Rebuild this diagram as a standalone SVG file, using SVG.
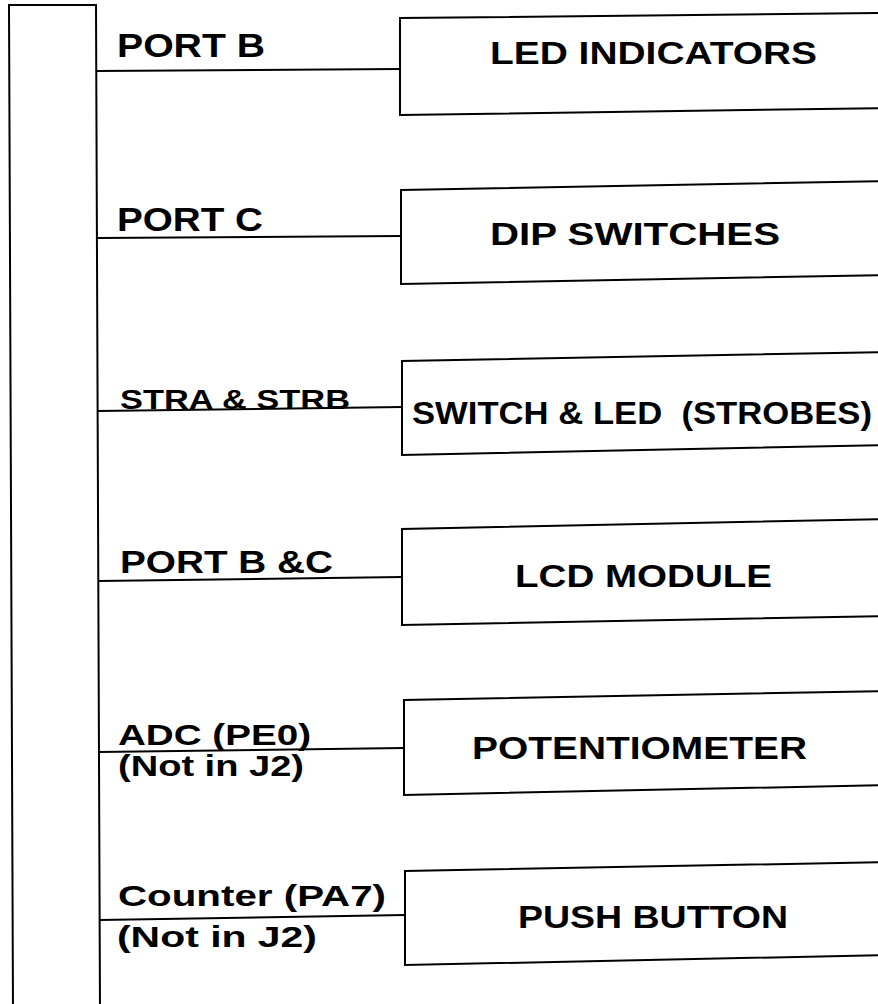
<svg xmlns="http://www.w3.org/2000/svg" width="878" height="1004" viewBox="0 0 878 1004">
<style>
.ln{fill:none;stroke:#000;stroke-width:2;stroke-linejoin:miter}
.t{font-family:"Liberation Sans",Arial,sans-serif;font-weight:bold;fill:#000}
</style>
<rect width="878" height="1004" fill="#fff"/>
<g id="bus">
<path class="ln" d="M13,1010 L9,5 L96,5 L100,1010"/>
</g>
<g id="connectors">
<path class="ln" d="M96,71 L400,69"/>
<path class="ln" d="M97,238 L401,236"/>
<path class="ln" d="M97,411 L402,407"/>
<path class="ln" d="M98,581 L402,577"/>
<path class="ln" d="M99,752 L404,748"/>
<path class="ln" d="M100,920 L405,915"/>
</g>
<g id="label-portb"><text class="t" x="117" y="57" font-size="33" textLength="148" lengthAdjust="spacingAndGlyphs">PORT B</text></g>
<g id="label-portc"><text class="t" x="117" y="231" font-size="33" textLength="146" lengthAdjust="spacingAndGlyphs">PORT C</text></g>
<g id="label-strobes"><text class="t" x="120" y="409" font-size="27" textLength="230" lengthAdjust="spacingAndGlyphs">STRA &amp; STRB</text></g>
<g id="label-portbc"><text class="t" x="120" y="573" font-size="32" textLength="213" lengthAdjust="spacingAndGlyphs">PORT B &amp;C</text></g>
<g id="label-adc">
<text class="t" x="118" y="745" font-size="30" textLength="193" lengthAdjust="spacingAndGlyphs">ADC (PE0)</text>
<text class="t" x="118" y="776" font-size="30" textLength="186" lengthAdjust="spacingAndGlyphs">(Not in J2)</text>
</g>
<g id="label-counter">
<text class="t" x="118" y="906" font-size="30" textLength="268" lengthAdjust="spacingAndGlyphs">Counter (PA7)</text>
<text class="t" x="117" y="947" font-size="30" textLength="200" lengthAdjust="spacingAndGlyphs">(Not in J2)</text>
</g>
<g id="led-indicators">
<path class="ln" d="M890,13 L400,18 L400,115 L890,108"/>
<text class="t" x="490" y="64" font-size="31" textLength="327" lengthAdjust="spacingAndGlyphs">LED INDICATORS</text>
</g>
<g id="dip-switches">
<path class="ln" d="M890,181 L401,190 L401,284 L890,275"/>
<text class="t" x="490" y="245" font-size="31" textLength="290" lengthAdjust="spacingAndGlyphs">DIP SWITCHES</text>
</g>
<g id="switch-led">
<path class="ln" d="M890,352 L402,361 L402,455 L890,445"/>
<text class="t" x="412" y="424" font-size="31" textLength="460" lengthAdjust="spacingAndGlyphs" xml:space="preserve">SWITCH &amp; LED  (STROBES)</text>
</g>
<g id="lcd-module">
<path class="ln" d="M890,519 L402,529 L402,625 L890,616"/>
<text class="t" x="515" y="587" font-size="31" textLength="257" lengthAdjust="spacingAndGlyphs">LCD MODULE</text>
</g>
<g id="potentiometer">
<path class="ln" d="M890,691 L404,700 L404,795 L890,785"/>
<text class="t" x="472" y="759" font-size="31" textLength="335" lengthAdjust="spacingAndGlyphs">POTENTIOMETER</text>
</g>
<g id="push-button">
<path class="ln" d="M890,862 L405,871 L405,965 L890,955"/>
<text class="t" x="518" y="928" font-size="31" textLength="270" lengthAdjust="spacingAndGlyphs">PUSH BUTTON</text>
</g>
</svg>
